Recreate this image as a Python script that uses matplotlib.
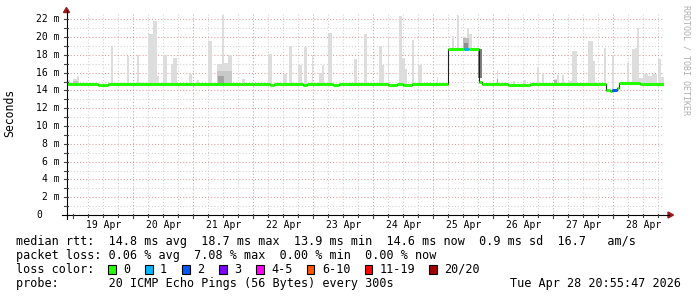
import matplotlib
matplotlib.use('Agg')
import matplotlib.pyplot as plt
from matplotlib.patches import Rectangle, Polygon
from matplotlib.lines import Line2D
from matplotlib.transforms import blended_transform_factory
import numpy as np

W, H = 697, 297
MONO = 'DejaVu Sans Mono'

# ---- data (time in hours since 19 Apr 00:00, values in ms) ----
t_start, t_end = -2.8, 236.3
day_labels = ['19 Apr', '20 Apr', '21 Apr', '22 Apr', '23 Apr',
              '24 Apr', '25 Apr', '26 Apr', '27 Apr', '28 Apr']

med_start = [-2.8, 9.9, 13.9, 45.5, 48.3, 57.5, 59.9, 67.5, 72.3, 78.7,
             80.3, 91.9, 93.5, 103.9, 106.3, 125.9, 129.5, 131.9, 135.5, 150.0,
             156.3, 158.3, 162.2, 163.5, 174.0, 178.3, 181.1, 182.7, 213.1, 214.7,
             215.5, 217.5, 218.3, 226.7]
med_val = [14.7, 14.64, 14.7, 14.75, 14.7, 14.76, 14.7, 14.75, 14.7, 14.63,
           14.7, 14.63, 14.7, 14.63, 14.7, 14.64, 14.7, 14.62, 14.7, 18.7,
           18.7, 18.7, 15.0, 14.7, 14.62, 14.66, 14.62, 14.7, 14.05, 13.95,
           14.05, 14.3, 14.82, 14.75]
med_loss = [0, 0, 0, 0, 0, 0, 0, 0, 0, 0,
            0, 0, 0, 0, 0, 0, 0, 0, 0, 0,
            1, 0, 0, 0, 0, 0, 0, 0, 0, 0,
            2, 0, 0, 0]

smoke_start = [-2.7, -0.1, 1.5, 15.1, 21.3, 25.3, 29.9, 31.9, 33.5, 35.9,
               39.1, 39.9, 46.1, 49.3, 53.9, 57.3, 59.4, 60.3, 62.0, 67.4,
               77.9, 83.9, 86.3, 90.0, 92.3, 95.4, 98.4, 99.4, 102.0, 112.3,
               116.3, 122.1, 123.3, 125.7, 130.3, 131.5, 132.5, 135.4, 138.0, 145.4,
               151.5, 153.5, 155.9, 157.4, 158.3, 162.0, 169.4, 175.9, 179.9, 185.4,
               187.4, 192.3, 193.4, 195.4, 197.9, 199.4, 205.9, 207.9, 212.3, 215.5,
               221.5, 223.4, 224.7, 225.6, 226.4, 227.9, 229.9, 231.5, 233.9, 235.1]
smoke_end = [-1.3, 1.9, 2.3, 15.9, 22.1, 26.1, 31.9, 33.5, 34.3, 37.5,
             39.9, 41.5, 47.5, 50.1, 55.5, 59.4, 60.3, 62.0, 63.4, 68.7,
             79.5, 85.4, 87.4, 91.4, 93.4, 96.0, 99.4, 100.3, 103.4, 113.4,
             117.4, 123.3, 124.3, 126.3, 131.5, 132.5, 133.5, 136.3, 139.4, 146.0,
             152.3, 154.3, 157.4, 158.3, 159.5, 163.5, 170.0, 176.7, 181.1, 186.3,
             188.3, 193.4, 194.3, 196.3, 199.4, 201.4, 207.9, 208.7, 213.1, 216.1,
             222.3, 224.7, 225.6, 226.4, 227.9, 229.9, 231.5, 233.5, 235.1, 236.3]
smoke_top = [15.2, 15.3, 15.6, 19.0, 17.85, 18.0, 20.3, 21.8, 15.6, 18.0,
             17.0, 17.7, 15.8, 15.2, 19.5, 17.0, 22.5, 17.1, 18.0, 15.3,
             18.1, 15.8, 19.0, 16.85, 18.9, 18.0, 16.0, 16.85, 20.4, 17.5,
             20.3, 19.0, 16.85, 19.9, 22.4, 17.7, 16.4, 19.7, 16.85, 15.5,
             20.1, 22.5, 19.9, 21.0, 20.3, 15.5, 16.3, 15.1, 15.2, 16.6,
             16.0, 15.3, 15.7, 15.7, 15.1, 18.4, 19.5, 17.3, 18.8, 18.0,
             17.1, 18.6, 18.8, 21.0, 15.4, 15.8, 15.6, 15.9, 17.5, 15.5]

dark_start = [0.0, 57.3, 57.9, 155.9, 156.3, 162.0, 169.4, 192.3]
dark_end = [1.9, 63.4, 60.3, 158.3, 158.0, 163.5, 170.0, 193.4]
dark_top = [15.1, 16.2, 15.6, 19.9, 19.3, 15.4, 15.3, 15.2]
dark_col = ['#c4c4c4', '#c8c8c8', '#a4a4a4', '#bcbcbc', '#8e8e8e', '#808080', '#a8a8a8', '#b4b4b4']

loss_labels = ['0', '1', '2', '3', '4-5', '6-10', '11-19', '20/20']
loss_colors = ['#26ff00', '#00b8ff', '#0059ff', '#7e00ff', '#ff00ff', '#ff5500', '#ff0000', '#a10000']

stats_line = 'median rtt:  14.8 ms avg  18.7 ms max  13.9 ms min  14.6 ms now  0.9 ms sd  16.7   am/s'
loss_line = 'packet loss: 0.06 % avg  7.08 % max  0.00 % min  0.00 % now'
probe_line = 'probe:       20 ICMP Echo Pings (56 Bytes) every 300s'
date_text = 'Tue Apr 28 20:55:47 2026'

# ---- figure ----
def fx(x):
    return x / W

def fy(y):
    return 1 - y / H

fig = plt.figure(figsize=(W / 100, H / 100), dpi=100)
fig.patch.set_facecolor('white')
L, R, T, B = 66.5, 664.0, 12.3, 215.0
ymax = 22.78
ax = fig.add_axes([fx(L), fy(B), (R - L) / W, (B - T) / H])
ax.set_xlim(t_start, t_end)
ax.set_ylim(0, ymax)
for s in ax.spines.values():
    s.set_visible(False)
ax.set_xticks([])
ax.set_yticks([])
ax.patch.set_alpha(0)

minor_col = '#d0d0d0'
major_col = '#e49a9a'
dots = (0, (1, 2))
for h in np.arange(6, t_end, 6):
    if h % 24 == 0:
        ax.axvline(h, color=major_col, lw=0.75, ls=dots, zorder=0.5)
    else:
        ax.axvline(h, color=minor_col, lw=0.75, ls=dots, zorder=0)
for v in range(1, 23):
    if v % 2 == 0:
        ax.axhline(v, color=major_col, lw=0.75, ls=dots, zorder=0.5)
    else:
        ax.axhline(v, color=minor_col, lw=0.75, ls=dots, zorder=0)


def med_at(t):
    idx = int(np.searchsorted(med_start, t, side='right')) - 1
    idx = max(idx, 0)
    return med_val[idx]


for s, e, top in zip(smoke_start, smoke_end, smoke_top):
    b = med_at(s) - 0.1
    ax.bar(s, top - b, width=e - s, bottom=b, align='edge', color='#dddddd', lw=0, zorder=2)
for s, e, top, c in zip(dark_start, dark_end, dark_top, dark_col):
    b = med_at(s) - 0.1
    ax.bar(s, top - b, width=e - s, bottom=b, align='edge', color=c, lw=0, zorder=2.5)

xs = med_start + [t_end]
ys = med_val + [med_val[-1]]
ax.step(xs, ys, where='post', color='#202020', lw=0.8, zorder=3)
ax.hlines(med_val, med_start, med_start[1:] + [t_end],
          colors=[loss_colors[l] for l in med_loss], lw=2.2, zorder=4)

# axes lines and arrows
fig.add_artist(Line2D([fx(L), fx(L)], [fy(219), fy(10)], color='black', lw=0.8))
fig.add_artist(Line2D([fx(62), fx(669)], [fy(B), fy(B)], color='black', lw=0.8))
arrow_col = '#9c1a1a'
fig.add_artist(Polygon([(fx(L - 3), fy(12.5)), (fx(L + 3), fy(12.5)), (fx(L), fy(7.5))],
                       closed=True, color=arrow_col, transform=fig.transFigure))
fig.add_artist(Polygon([(fx(668), fy(212)), (fx(668), fy(218)), (fx(673.5), fy(215))],
                       closed=True, color=arrow_col, transform=fig.transFigure))

# tick marks
tr_x = blended_transform_factory(ax.transData, fig.transFigure)
for h in np.arange(0, t_end, 6):
    ln = 3 if h % 24 == 0 else 2
    fig.add_artist(Line2D([h, h], [fy(B - 1), fy(B + ln)], color='#404040', lw=0.8, transform=tr_x))
tr_y = blended_transform_factory(fig.transFigure, ax.transData)
for v in range(1, 23):
    fig.add_artist(Line2D([fx(L - 3), fx(L + 1)], [v, v], color='#404040', lw=0.8, transform=tr_y))

# tick labels
for v in range(2, 23, 2):
    fig.text(fx(59.5), v, f'{v} m', transform=tr_y, ha='right', va='center',
             family=MONO, fontsize=7)
fig.text(fx(36), 0, '0', transform=tr_y, ha='left', va='center', family=MONO, fontsize=7)
for i, lab in enumerate(day_labels):
    fig.text(12 + 24 * i, fy(224.5), lab, transform=tr_x, ha='center', va='center',
             family=MONO, fontsize=7)

fig.text(fx(10), fy(113), 'Seconds', rotation=90, ha='center', va='center',
         family=MONO, fontsize=8.3)
fig.text(fx(686), fy(5), 'RRDTOOL / TOBI OETIKER', rotation=-90, ha='center', va='top',
         family=MONO, fontsize=6, color='#b0b0b0')

# legend
fs = 8.5
fig.text(fx(16), fy(241.5), stats_line, ha='left', va='center', family=MONO, fontsize=fs)
fig.text(fx(16), fy(255.5), loss_line, ha='left', va='center', family=MONO, fontsize=fs)
fig.text(fx(16), fy(269.5), 'loss color:', ha='left', va='center', family=MONO, fontsize=fs)
fig.text(fx(16), fy(283.5), probe_line, ha='left', va='center', family=MONO, fontsize=fs)
fig.text(fx(681), fy(283.5), date_text, ha='right', va='center', family=MONO, fontsize=fs)

bx = 108.0
for lab, col in zip(loss_labels, loss_colors):
    fig.add_artist(Rectangle((fx(bx), fy(273.5)), 7.5 / W, 8.5 / H, facecolor=col,
                             edgecolor='black', lw=0.8, transform=fig.transFigure))
    fig.text(fx(bx + 15), fy(269.5), lab, ha='left', va='center', family=MONO, fontsize=fs)
    bx += 37 + 6.9 * (len(lab) - 1)

fig.savefig('out.png', dpi=100, facecolor='white')
